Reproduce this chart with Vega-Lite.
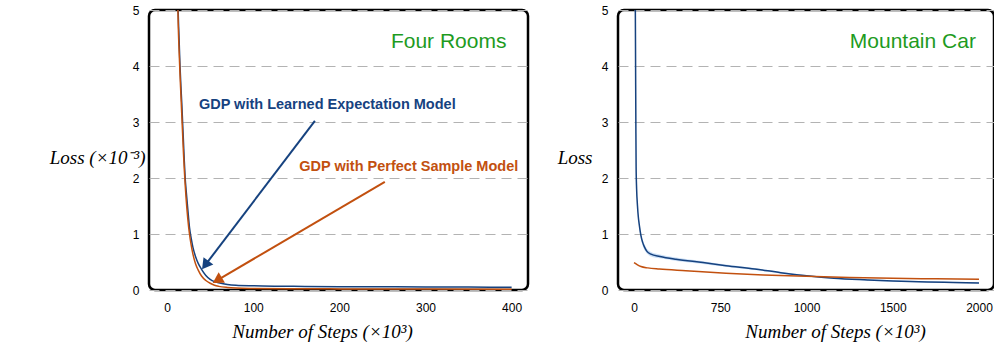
{
  "$schema": "https://vega.github.io/schema/vega-lite/v6.json",
  "padding": {"left": 47, "top": 2, "right": 0, "bottom": 0},
  "spacing": 25,
  "background": "white",
  "config": {
    "view": {"stroke": "black", "strokeWidth": 2.5, "cornerRadius": 6},
    "axis": {
      "labelFont": "Liberation Sans", "labelFontSize": 12, "labelColor": "black",
      "titleFont": "Liberation Serif", "titleFontStyle": "italic", "titleFontWeight": "normal",
      "titleFontSize": 19, "titleColor": "black",
      "ticks": false, "domain": false
    },
    "axisY": {"grid": true, "gridDash": [10, 6], "gridColor": "#b3b3b3", "gridWidth": 1, "labelPadding": 10},
    "axisX": {"grid": false, "labelPadding": 12, "titlePadding": 9}
  },
  "datasets": {
    "fr": [
      {"x": 12, "loss": 5.6, "model": "learned"}, {"x": 13, "loss": 4.9, "model": "learned"}, {"x": 14, "loss": 4.45, "model": "learned"},
      {"x": 15, "loss": 4.0, "model": "learned"}, {"x": 16, "loss": 3.65, "model": "learned"}, {"x": 17, "loss": 3.35, "model": "learned"},
      {"x": 18, "loss": 3.0, "model": "learned"}, {"x": 19, "loss": 2.65, "model": "learned"}, {"x": 20, "loss": 2.3, "model": "learned"},
      {"x": 21, "loss": 2.0, "model": "learned"}, {"x": 22, "loss": 1.8, "model": "learned"}, {"x": 24, "loss": 1.45, "model": "learned"},
      {"x": 26, "loss": 1.12, "model": "learned"}, {"x": 28, "loss": 0.92, "model": "learned"}, {"x": 30, "loss": 0.76, "model": "learned"},
      {"x": 33, "loss": 0.6, "model": "learned"}, {"x": 36, "loss": 0.48, "model": "learned"}, {"x": 40, "loss": 0.37, "model": "learned"},
      {"x": 45, "loss": 0.26, "model": "learned"}, {"x": 50, "loss": 0.19, "model": "learned"}, {"x": 55, "loss": 0.15, "model": "learned"},
      {"x": 60, "loss": 0.13, "model": "learned"}, {"x": 70, "loss": 0.1, "model": "learned"}, {"x": 80, "loss": 0.085, "model": "learned"},
      {"x": 100, "loss": 0.075, "model": "learned"}, {"x": 130, "loss": 0.068, "model": "learned"}, {"x": 160, "loss": 0.064, "model": "learned"},
      {"x": 200, "loss": 0.06, "model": "learned"}, {"x": 250, "loss": 0.057, "model": "learned"}, {"x": 300, "loss": 0.054, "model": "learned"},
      {"x": 350, "loss": 0.052, "model": "learned"}, {"x": 400, "loss": 0.05, "model": "learned"},
      {"x": 12, "loss": 5.4, "model": "perfect"}, {"x": 13, "loss": 4.7, "model": "perfect"}, {"x": 14, "loss": 4.25, "model": "perfect"},
      {"x": 15, "loss": 3.85, "model": "perfect"}, {"x": 16, "loss": 3.5, "model": "perfect"}, {"x": 17, "loss": 3.15, "model": "perfect"},
      {"x": 18, "loss": 2.8, "model": "perfect"}, {"x": 19, "loss": 2.45, "model": "perfect"}, {"x": 20, "loss": 2.15, "model": "perfect"},
      {"x": 21, "loss": 1.88, "model": "perfect"}, {"x": 22, "loss": 1.65, "model": "perfect"}, {"x": 24, "loss": 1.28, "model": "perfect"},
      {"x": 26, "loss": 1.0, "model": "perfect"}, {"x": 28, "loss": 0.8, "model": "perfect"}, {"x": 30, "loss": 0.64, "model": "perfect"},
      {"x": 33, "loss": 0.47, "model": "perfect"}, {"x": 36, "loss": 0.36, "model": "perfect"}, {"x": 40, "loss": 0.25, "model": "perfect"},
      {"x": 45, "loss": 0.17, "model": "perfect"}, {"x": 50, "loss": 0.12, "model": "perfect"}, {"x": 55, "loss": 0.085, "model": "perfect"},
      {"x": 60, "loss": 0.065, "model": "perfect"}, {"x": 70, "loss": 0.045, "model": "perfect"}, {"x": 80, "loss": 0.035, "model": "perfect"},
      {"x": 100, "loss": 0.028, "model": "perfect"}, {"x": 150, "loss": 0.022, "model": "perfect"}, {"x": 200, "loss": 0.02, "model": "perfect"},
      {"x": 300, "loss": 0.017, "model": "perfect"}, {"x": 400, "loss": 0.015, "model": "perfect"}
    ],
    "mc": [
      {"x": 6, "loss": 5.6, "model": "learned"}, {"x": 7.5, "loss": 5.0, "model": "learned"}, {"x": 9, "loss": 4.0, "model": "learned"},
      {"x": 10.5, "loss": 3.0, "model": "learned"}, {"x": 12, "loss": 2.2, "model": "learned"}, {"x": 15, "loss": 1.8, "model": "learned"},
      {"x": 20, "loss": 1.5, "model": "learned"}, {"x": 25, "loss": 1.3, "model": "learned"}, {"x": 31, "loss": 1.15, "model": "learned"},
      {"x": 40, "loss": 0.97, "model": "learned"}, {"x": 50, "loss": 0.85, "model": "learned"}, {"x": 60, "loss": 0.77, "model": "learned"},
      {"x": 75, "loss": 0.69, "model": "learned"}, {"x": 98, "loss": 0.64, "model": "learned"}, {"x": 150, "loss": 0.6, "model": "learned"},
      {"x": 243, "loss": 0.55, "model": "learned"}, {"x": 400, "loss": 0.49, "model": "learned"}, {"x": 533, "loss": 0.435, "model": "learned"},
      {"x": 700, "loss": 0.375, "model": "learned"}, {"x": 850, "loss": 0.31, "model": "learned"}, {"x": 1000, "loss": 0.255, "model": "learned"},
      {"x": 1159, "loss": 0.21, "model": "learned"}, {"x": 1355, "loss": 0.18, "model": "learned"}, {"x": 1500, "loss": 0.162, "model": "learned"},
      {"x": 1700, "loss": 0.145, "model": "learned"}, {"x": 1850, "loss": 0.135, "model": "learned"}, {"x": 2000, "loss": 0.125, "model": "learned"},
      {"x": 0, "loss": 0.49, "model": "perfect"}, {"x": 20, "loss": 0.45, "model": "perfect"}, {"x": 40, "loss": 0.42, "model": "perfect"},
      {"x": 80, "loss": 0.395, "model": "perfect"}, {"x": 147, "loss": 0.375, "model": "perfect"}, {"x": 300, "loss": 0.345, "model": "perfect"},
      {"x": 533, "loss": 0.3, "model": "perfect"}, {"x": 750, "loss": 0.27, "model": "perfect"}, {"x": 1000, "loss": 0.245, "model": "perfect"},
      {"x": 1250, "loss": 0.225, "model": "perfect"}, {"x": 1500, "loss": 0.21, "model": "perfect"}, {"x": 1750, "loss": 0.2, "model": "perfect"},
      {"x": 2000, "loss": 0.19, "model": "perfect"}
    ],
    "mcband": [
      {"x": 25, "lo": 1.25, "hi": 1.35}, {"x": 40, "lo": 0.92, "hi": 1.02}, {"x": 60, "lo": 0.72, "hi": 0.82},
      {"x": 75, "lo": 0.65, "hi": 0.73}, {"x": 98, "lo": 0.6, "hi": 0.68}, {"x": 150, "lo": 0.565, "hi": 0.635},
      {"x": 243, "lo": 0.52, "hi": 0.58}, {"x": 400, "lo": 0.465, "hi": 0.515}, {"x": 533, "lo": 0.415, "hi": 0.455},
      {"x": 700, "lo": 0.355, "hi": 0.395}, {"x": 850, "lo": 0.295, "hi": 0.325}, {"x": 1000, "lo": 0.24, "hi": 0.27},
      {"x": 1159, "lo": 0.197, "hi": 0.223}, {"x": 1355, "lo": 0.167, "hi": 0.193}, {"x": 1500, "lo": 0.15, "hi": 0.175},
      {"x": 1700, "lo": 0.133, "hi": 0.157}, {"x": 2000, "lo": 0.113, "hi": 0.137}
    ],
    "frtext": [
      {"x": 186, "y": 3.3, "label": "GDP with Learned Expectation Model", "model": "learned"},
      {"x": 280.6, "y": 2.2, "label": "GDP with Perfect Sample Model", "model": "perfect"}
    ],
    "frarrow": [
      {"x": 171.6, "y": 3.02, "x2": 45.5, "y2": 0.47, "model": "learned"},
      {"x": 252.8, "y": 1.93, "x2": 60, "y2": 0.19, "model": "perfect"}
    ],
    "frtitle": [{"x": 394, "y": 4.43, "label": "Four Rooms"}],
    "mctitle": [{"x": 1982, "y": 4.43, "label": "Mountain Car"}]
  },
  "hconcat": [
    {
      "width": 379, "height": 280,
      "layer": [
        {
          "data": {"name": "fr"},
          "mark": {"type": "line", "clip": true, "strokeWidth": 1.5, "interpolate": "monotone"},
          "encoding": {
            "x": {"field": "x", "type": "quantitative", "scale": {"domain": [-21, 419], "nice": false, "zero": false},
                  "axis": {"values": [0, 100, 200, 300, 400], "title": "Number of Steps (×10³)", "titleX": 173, "titleAnchor": null}},
            "y": {"field": "loss", "type": "quantitative", "scale": {"domain": [0, 5], "nice": false},
                  "axis": {"values": [0, 1, 2, 3, 4, 5], "title": "Loss (×10⁻³)", "titleAngle": 0, "titleAlign": "right", "titleBaseline": "middle", "titleX": -4, "titleY": 147}},
            "color": {"field": "model", "type": "nominal", "scale": {"domain": ["learned", "perfect"], "range": ["#16427f", "#c2500f"]}, "legend": null},
            "order": {"field": "x", "type": "quantitative"}
          }
        },
        {
          "data": {"name": "frarrow"},
          "mark": {"type": "rule", "strokeWidth": 2},
          "encoding": {
            "x": {"field": "x", "type": "quantitative"}, "y": {"field": "y", "type": "quantitative"},
            "x2": {"field": "x2"}, "y2": {"field": "y2"},
            "color": {"field": "model", "type": "nominal", "legend": null}
          }
        },
        {
          "data": {"name": "frarrow"},
          "transform": [{"filter": "datum.model == 'learned'"}],
          "mark": {"type": "point", "shape": "triangle", "filled": true, "opacity": 1, "size": 150, "angle": 217},
          "encoding": {
            "x": {"field": "x2", "type": "quantitative"}, "y": {"field": "y2", "type": "quantitative"},
            "color": {"field": "model", "type": "nominal", "legend": null}
          }
        },
        {
          "data": {"name": "frarrow"},
          "transform": [{"filter": "datum.model == 'perfect'"}],
          "mark": {"type": "point", "shape": "triangle", "filled": true, "opacity": 1, "size": 150, "angle": 239},
          "encoding": {
            "x": {"field": "x2", "type": "quantitative"}, "y": {"field": "y2", "type": "quantitative"},
            "color": {"field": "model", "type": "nominal", "legend": null}
          }
        },
        {
          "data": {"name": "frtext"},
          "mark": {"type": "text", "font": "Liberation Sans", "fontSize": 14.5, "fontWeight": "bold", "baseline": "middle"},
          "encoding": {
            "x": {"field": "x", "type": "quantitative"}, "y": {"field": "y", "type": "quantitative"},
            "text": {"field": "label"},
            "color": {"field": "model", "type": "nominal", "legend": null}
          }
        },
        {
          "data": {"name": "frtitle"},
          "mark": {"type": "text", "font": "Liberation Sans", "fontSize": 21, "align": "right", "baseline": "middle", "color": "#1e9b1e"},
          "encoding": {"x": {"field": "x", "type": "quantitative"}, "y": {"field": "y", "type": "quantitative"}, "text": {"field": "label"}}
        }
      ]
    },
    {
      "width": 376, "height": 280,
      "layer": [
        {
          "data": {"name": "mcband"},
          "mark": {"type": "area", "clip": true, "color": "#a9caf0", "opacity": 0.6, "interpolate": "monotone"},
          "encoding": {
            "x": {"field": "x", "type": "quantitative", "scale": {"domain": [-93, 2087], "nice": false, "zero": false},
                  "axis": {"values": [0, 500, 1000, 1500, 2000], "format": "d", "labelExpr": "datum.value == 500 ? '750' : datum.label", "title": "Number of Steps (×10³)", "titleX": 217, "titleAnchor": null}},
            "y": {"field": "lo", "type": "quantitative", "scale": {"domain": [0, 5], "nice": false},
                  "axis": {"values": [0, 1, 2, 3, 4, 5], "title": "Loss", "titleAngle": 0, "titleAlign": "right", "titleBaseline": "middle", "titleX": -26, "titleY": 147}},
            "y2": {"field": "hi"}
          }
        },
        {
          "data": {"name": "mc"},
          "mark": {"type": "line", "clip": true, "strokeWidth": 1.5, "interpolate": "monotone"},
          "encoding": {
            "x": {"field": "x", "type": "quantitative"},
            "y": {"field": "loss", "type": "quantitative"},
            "color": {"field": "model", "type": "nominal", "scale": {"domain": ["learned", "perfect"], "range": ["#16427f", "#c2500f"]}, "legend": null},
            "order": {"field": "x", "type": "quantitative"}
          }
        },
        {
          "data": {"name": "mctitle"},
          "mark": {"type": "text", "font": "Liberation Sans", "fontSize": 21, "align": "right", "baseline": "middle", "color": "#1e9b1e"},
          "encoding": {"x": {"field": "x", "type": "quantitative"}, "y": {"field": "y", "type": "quantitative"}, "text": {"field": "label"}}
        }
      ]
    }
  ]
}
